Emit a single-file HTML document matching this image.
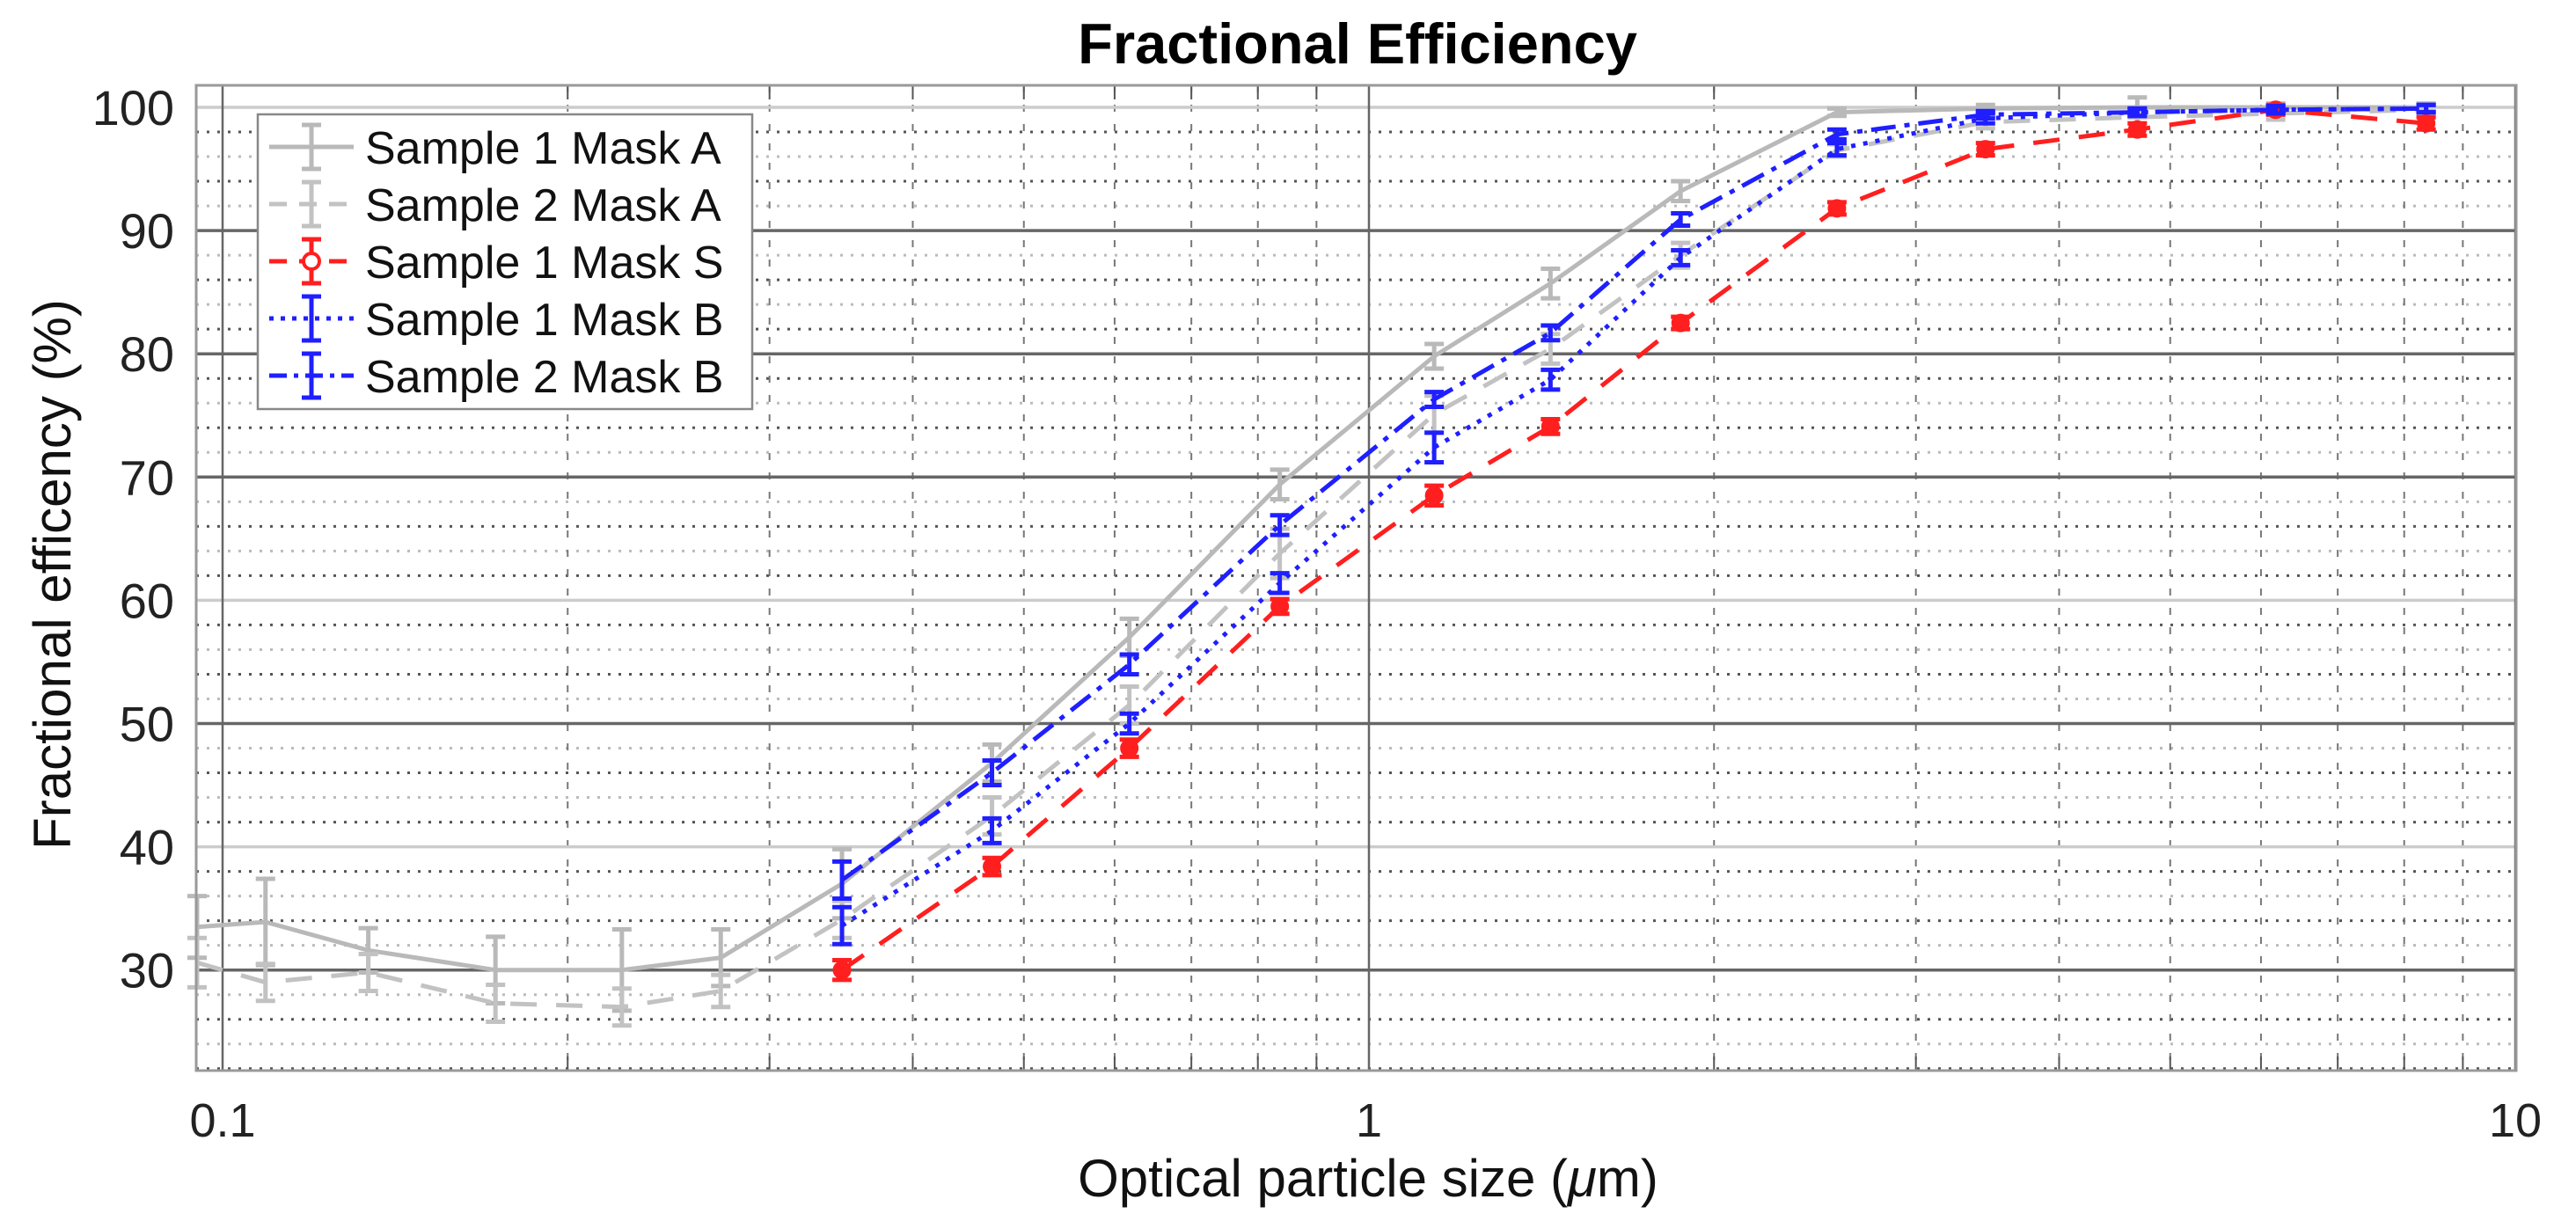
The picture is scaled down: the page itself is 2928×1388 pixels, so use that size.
<!DOCTYPE html>
<html><head><meta charset="utf-8">
<style>
html,body{margin:0;padding:0;background:#fff;}
svg{display:block;font-family:"Liberation Sans",Arial,sans-serif;}
</style></head>
<body>
<svg id="chart" width="2928" height="1388" viewBox="0 0 2928 1388" xmlns="http://www.w3.org/2000/svg">
<rect x="0" y="0" width="2928" height="1388" fill="#fff"/>
<text x="1543" y="72" font-size="65" font-weight="bold" text-anchor="middle" fill="#000">Fractional Efficiency</text>
<g id="grid"></g>
<g id="series"></g>
<rect x="223" y="97" width="2637" height="1120" fill="none" stroke="#999" stroke-width="3"/>
<g id="ticks"></g>
<text x="1555" y="1360" font-size="60" text-anchor="middle" fill="#111">Optical particle size (<tspan font-style="italic">μ</tspan>m)</text>
<text transform="translate(80,653) rotate(-90)" x="0" y="0" font-size="60" text-anchor="middle" fill="#111">Fractional efficency (%)</text>
<g id="legend"></g>
</svg>
<script>
const xsAll = [0.095,0.109,0.134,0.173,0.223,0.272,0.347,0.469,0.618,0.836,1.14,1.44,1.87,2.56,3.45,4.68,6.18,8.36];
const xsLate = [0.347,0.469,0.618,0.836,1.14,1.44,1.87,2.56,3.45,4.68,6.18,8.36];
const s1MaskA = [33.5,33.9,31.6,30.0,30.0,31.0,37.0,46.8,57.0,69.4,79.8,85.7,93.2,99.6,99.9,100,100,100];
const s1MaskAErr = [2.5,3.5,1.8,2.7,3.3,2.3,2.8,1.5,1.5,1.2,1.0,1.2,0.8,0.3,0.3,0.8,0.3,0.3];
const s2MaskA = [30.6,29.0,29.8,27.3,27.0,28.3,34.1,42.5,51.5,63.8,75.1,80.4,88.0,96.5,98.8,99.2,99.5,99.8];
const s2MaskAErr = [2,1.5,1.5,1.5,1.5,1.3,1.5,1.5,1.5,2,1.5,1.2,1,0.5,0.5,0.5,0.5,0.5];
const s1MaskS = [30.0,38.4,48.0,59.5,68.5,74.1,82.5,91.8,96.6,98.2,99.8,98.7];
const s1MaskSErr = [0.8,0.7,0.7,0.6,0.8,0.6,0.5,0.5,0.5,0.5,0.4,0.5];
const s1MaskB = [33.6,41.3,50.0,61.4,72.4,77.9,87.8,96.6,99.1,99.6,99.8,99.9];
const s1MaskBErr = [1.5,1.0,0.8,0.8,1.2,0.8,0.6,0.5,0.4,0.3,0.3,0.3];
const s2MaskB = [37.3,46.0,54.8,66.1,76.3,81.7,90.9,97.8,99.4,99.6,99.8,99.9];
const s2MaskBErr = [1.5,1.0,0.8,0.8,0.6,0.6,0.5,0.4,0.3,0.3,0.3,0.3];
const yTicks = [30,40,50,60,70,80,90,100];
const xTicks = [0.1,1,10];
const xTickLabels = ["0.1","1","10"];
const legendLabels = ["Sample 1 Mask A","Sample 2 Mask A","Sample 1 Mask S","Sample 1 Mask B","Sample 2 Mask B"];

const NS="http://www.w3.org/2000/svg";
const L=223,R=2860,T=97,B=1217;
function X(v){return 253+1303*Math.log10(v/0.1);}
function Y(v){return 122+(100-v)*14.01;}
function mk(tag,attrs,parent){const e=document.createElementNS(NS,tag);for(const k in attrs)e.setAttribute(k,attrs[k]);parent.appendChild(e);return e;}

const grid=document.getElementById('grid');
for(let v=22;v<=100;v+=2){
  if(v%10===0)continue;
  const l=mk('line',{x1:L,x2:R,y1:Y(v),y2:Y(v),stroke:(v%4===0)?'#bbb':'#555','stroke-width':3,'stroke-dasharray':'3 9'},grid);
  
  
}
for(const d of [0.1,1]){for(let m=2;m<=9;m++){
  const v=d*m;
  const l=mk('line',{x1:X(v),x2:X(v),y1:T,y2:B,stroke:'#777','stroke-width':2,'stroke-dasharray':'8 14'},grid);
  
  
  const t1=mk('line',{x1:X(v),x2:X(v),y1:T,y2:T+16,stroke:'#555','stroke-width':2},grid);
  
  
  const t2=mk('line',{x1:X(v),x2:X(v),y1:B,y2:B-16,stroke:'#555','stroke-width':2},grid);
  
  
}}
const lightMajor=[40,60,100];
yTicks.forEach(v=>{
  const l=mk('line',{x1:L,x2:R,y1:Y(v),y2:Y(v),stroke:lightMajor.includes(v)?'#ccc':'#666','stroke-width':3.5},grid);
  
  
});
xTicks.forEach(v=>{
  const l=mk('line',{x1:X(v),x2:X(v),y1:T,y2:B,stroke:'#666','stroke-width':2.5},grid);
  
  
});

const ticks=document.getElementById('ticks');
yTicks.forEach(v=>{
  const t=mk('text',{x:198,y:Y(v)+20,'font-size':56,'text-anchor':'end',fill:'#222'},ticks);
  t.textContent=String(v);
  
  
});
xTicks.forEach((v,i)=>{
  const t=mk('text',{x:X(v),y:1292,'font-size':54,'text-anchor':'middle',fill:'#222'},ticks);
  t.textContent=xTickLabels[i];
  
  
});

const seriesDefs=[
  {xs:xsAll,ys:s1MaskA,err:s1MaskAErr,color:'#b9b9b9',dash:'',marker:false,name:'series-sample1-mask-a'},
  {xs:xsAll,ys:s2MaskA,err:s2MaskAErr,color:'#c2c2c2',dash:'30 22',marker:false,name:'series-sample2-mask-a'},
  {xs:xsLate,ys:s1MaskS,err:s1MaskSErr,color:'#ff1f1f',dash:'30 22',marker:true,name:'series-sample1-mask-s'},
  {xs:xsLate,ys:s1MaskB,err:s1MaskBErr,color:'#1f1fff',dash:'5 9',marker:false,name:'series-sample1-mask-b'},
  {xs:xsLate,ys:s2MaskB,err:s2MaskBErr,color:'#1f1fff',dash:'28 10 6 10',marker:false,name:'series-sample2-mask-b'}
];
const sg=document.getElementById('series');
seriesDefs.forEach(s=>{
  const g=mk('g',{},sg);
  
  
  const pts=s.xs.map((x,i)=>X(x).toFixed(1)+','+Y(s.ys[i]).toFixed(1)).join(' ');
  const pl=mk('polyline',{points:pts,fill:'none',stroke:s.color,'stroke-width':5,'stroke-dasharray':s.dash,'stroke-linejoin':'round'},g);
  
  
  s.xs.forEach((x,i)=>{
    const cx=X(x),y1=Y(s.ys[i]+s.err[i]),y2=Y(s.ys[i]-s.err[i]);
    const eb=mk('path',{d:`M${cx},${y1}V${y2}M${cx-11},${y1}H${cx+11}M${cx-11},${y2}H${cx+11}`,stroke:s.color,'stroke-width':5,fill:'none'},g);
    
    
    if(s.marker){
      const c=mk('circle',{cx:cx,cy:Y(s.ys[i]),r:9,fill:s.color,stroke:s.color,'stroke-width':3},g);
      
      
    }
  });
});

const lg=document.getElementById('legend');
const box=mk('rect',{x:293,y:130,width:562,height:335,fill:'#fff',stroke:'#888','stroke-width':2.5},lg);


legendLabels.forEach((lab,i)=>{
  const s=seriesDefs[i], y=167+65*i;
  const g=mk('g',{},lg);
  
  
  mk('line',{x1:306,x2:402,y1:y,y2:y,stroke:s.color,'stroke-width':5,'stroke-dasharray':s.dash?(i===3?'5 8':(i===4?'20 8 5 8':'20 14')):''},g);
  mk('path',{d:`M354,${y-25}V${y+25}M343,${y-25}H365M343,${y+25}H365`,stroke:s.color,'stroke-width':5,fill:'none'},g);
  if(s.marker) mk('circle',{cx:354,cy:y,r:9,fill:'#fff',stroke:s.color,'stroke-width':4},g);
  const t=mk('text',{x:415,y:y+19,'font-size':52,fill:'#111'},g);
  t.textContent=lab;
  
  
});
</script>
</body></html>
